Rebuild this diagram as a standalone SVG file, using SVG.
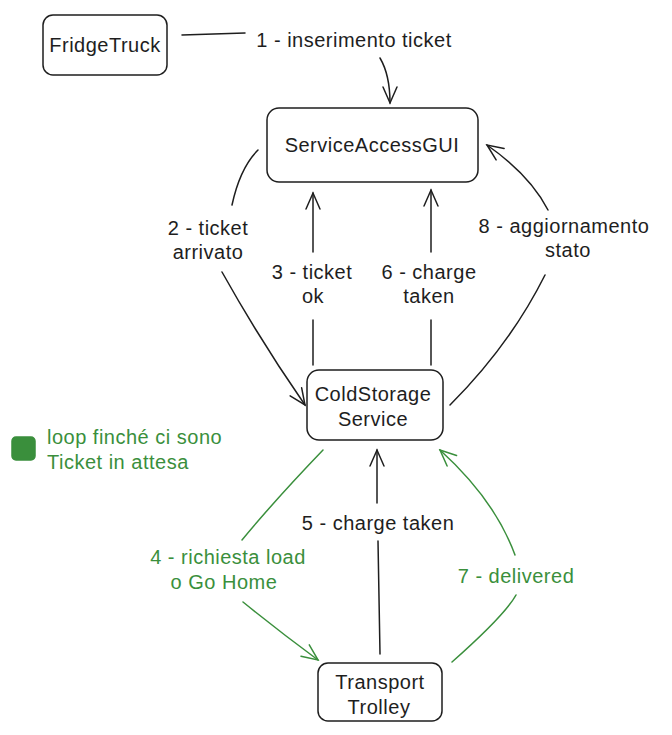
<svg xmlns="http://www.w3.org/2000/svg" width="672" height="735" viewBox="0 0 672 735">
<defs>
<style>
.box{fill:#fff;stroke:#1e1e1e;stroke-width:1.5}
.t{font-family:"Liberation Sans",Arial,sans-serif;font-size:20px;letter-spacing:0.5px;fill:#1e1e1e;text-anchor:middle}
.g{fill:#3a8f3c}
.c{fill:none;stroke:#1e1e1e;stroke-width:1.5;stroke-linecap:round}
.cg{fill:none;stroke:#3a8f3c;stroke-width:1.5;stroke-linecap:round}
</style>
<marker id="ab" viewBox="0 0 20 20" refX="18" refY="10" markerWidth="20" markerHeight="20" markerUnits="userSpaceOnUse" orient="auto">
<path d="M2,3 L18,10 L2,17" fill="none" stroke="#1e1e1e" stroke-width="1.5" stroke-linecap="round"/>
</marker>
<marker id="ag" viewBox="0 0 20 20" refX="18" refY="10" markerWidth="20" markerHeight="20" markerUnits="userSpaceOnUse" orient="auto">
<path d="M2,3 L18,10 L2,17" fill="none" stroke="#3a8f3c" stroke-width="1.5" stroke-linecap="round"/>
</marker>
</defs>
<rect width="672" height="735" fill="#fff"/>

<g id="connectors">
<path class="c" d="M182,35 L245,33"/>
<path class="c" d="M380,58 Q390,75 390,103" marker-end="url(#ab)"/>
<path class="c" d="M258,150 Q240,168 232,205"/>
<path class="c" d="M222,272 Q260,340 305,405" marker-end="url(#ab)"/>
<path class="c" d="M313,365 L313,320"/>
<path class="c" d="M313,252 L313,193" marker-end="url(#ab)"/>
<path class="c" d="M431,365 L431,320"/>
<path class="c" d="M431,252 L431,190" marker-end="url(#ab)"/>
<path class="c" d="M450,405 Q510,345 545,275"/>
<path class="c" d="M548,210 Q530,175 487,145" marker-end="url(#ab)"/>
<path class="c" d="M380,654 L378,541"/>
<path class="c" d="M377,503 L377,450" marker-end="url(#ab)"/>
<path class="cg" d="M323,450 Q275,500 242,540"/>
<path class="cg" d="M243,602 Q280,632 318,660" marker-end="url(#ag)"/>
<path class="cg" d="M452,662 Q505,615 516,595"/>
<path class="cg" d="M515,555 Q495,500 440,450" marker-end="url(#ag)"/>
</g>

<g id="labels">
<text class="t" x="354" y="47">1 - inserimento ticket</text>
<text class="t" x="208" y="235">2 - ticket</text>
<text class="t" x="208" y="259">arrivato</text>
<text class="t" x="312" y="279">3 - ticket</text>
<text class="t" x="313" y="303">ok</text>
<text class="t" x="429" y="279">6 - charge</text>
<text class="t" x="429" y="303">taken</text>
<text class="t" x="564" y="233">8 - aggiornamento</text>
<text class="t" x="568" y="257">stato</text>
<text class="t" x="378" y="530">5 - charge taken</text>
<text class="t g" x="228" y="564">4 - richiesta load</text>
<text class="t g" x="224" y="589">o Go Home</text>
<text class="t g" x="516" y="583">7 - delivered</text>
</g>

<g id="legend">
<rect x="12" y="437" width="23" height="23" rx="4" fill="#3a8f3c" stroke="#3a8f3c" stroke-width="1.5"/>
<text class="t g" x="47" y="444" style="text-anchor:start">loop finché ci sono</text>
<text class="t g" x="47" y="469" style="text-anchor:start">Ticket in attesa</text>
</g>

<g id="FridgeTruck">
<rect class="box" x="43" y="15" width="124" height="60" rx="10"/>
<text class="t" x="105" y="52">FridgeTruck</text>
</g>

<g id="ServiceAccessGUI">
<rect class="box" x="267" y="108" width="211" height="74" rx="12"/>
<text class="t" x="372" y="152">ServiceAccessGUI</text>
</g>

<g id="ColdStorageService">
<rect class="box" x="307" y="370" width="136" height="70" rx="12"/>
<text class="t" x="373" y="401">ColdStorage</text>
<text class="t" x="373" y="426">Service</text>
</g>

<g id="TransportTrolley">
<rect class="box" x="318" y="663" width="124" height="58" rx="10"/>
<text class="t" x="380" y="689">Transport</text>
<text class="t" x="379" y="714">Trolley</text>
</g>
</svg>
